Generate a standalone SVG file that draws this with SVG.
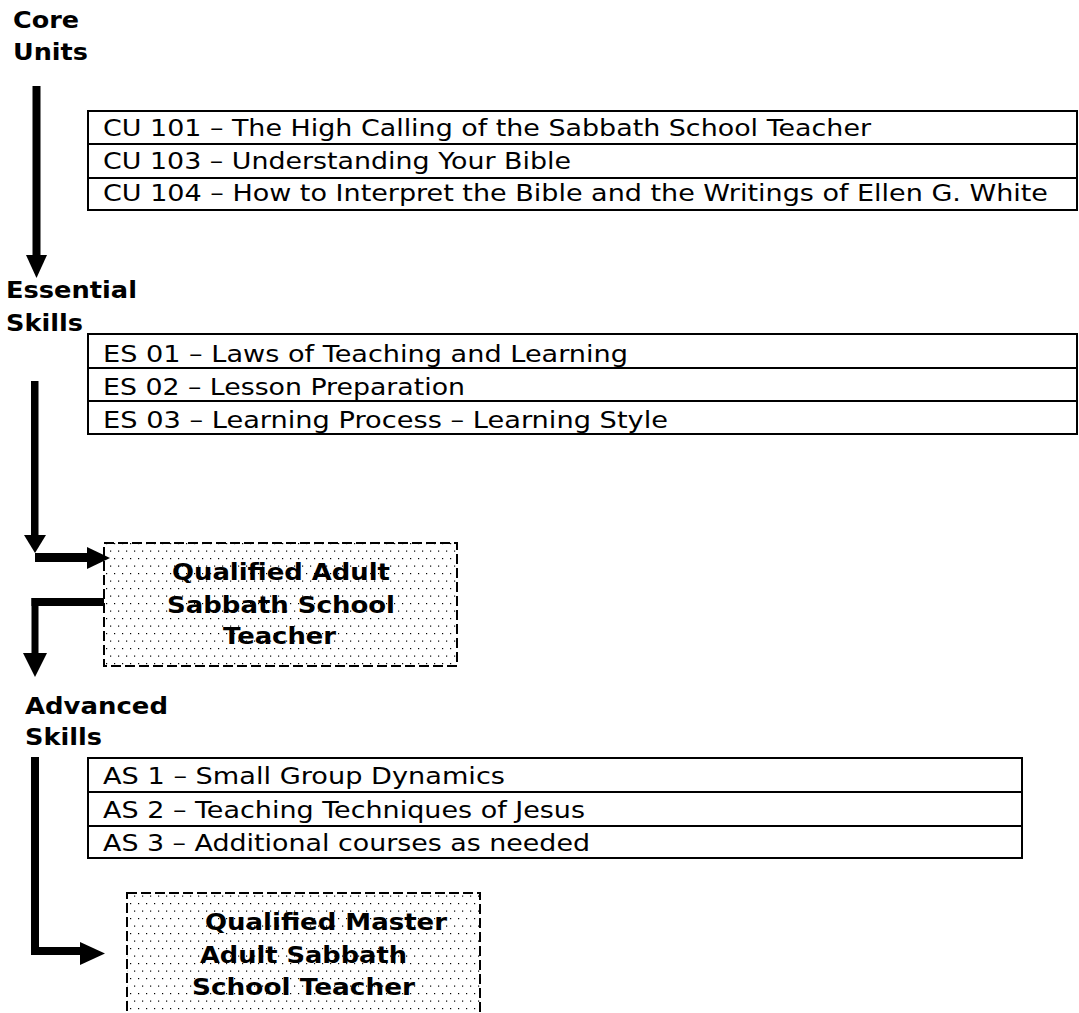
<svg xmlns="http://www.w3.org/2000/svg" width="1079" height="1013" viewBox="0 0 1079 1013">
<style>
.reg{font-family:"DejaVu Sans","Liberation Sans",sans-serif;font-size:22.5px;fill:#000}
.bold{font-family:"DejaVu Sans","Liberation Sans",sans-serif;font-size:23px;font-weight:bold;fill:#000}
.cell{fill:#fff;stroke:#000;stroke-width:2}
.box{fill:url(#dots);stroke:#000;stroke-width:2;stroke-dasharray:10 4}
.ar{fill:#000;stroke:none}
</style>
<defs>
<pattern id="dots" width="8" height="15" patternUnits="userSpaceOnUse">
<rect width="8" height="15" fill="#fff"/>
<rect x="2" y="3" width="1.2" height="1.2" fill="#000"/>
<rect x="6" y="10.5" width="1.2" height="1.2" fill="#000"/>
</pattern>
</defs>
<rect width="1079" height="1013" fill="#fff"/>

<g id="heading-core">
<text class="bold" x="13" y="28" textLength="66" lengthAdjust="spacingAndGlyphs">Core</text>
<text class="bold" x="13" y="60" textLength="75" lengthAdjust="spacingAndGlyphs">Units</text>
</g>

<g id="table-core">
<rect class="cell" x="88" y="111" width="989" height="33"/>
<rect class="cell" x="88" y="144" width="989" height="34"/>
<rect class="cell" x="88" y="178" width="989" height="32"/>
<text class="reg" x="103" y="136" textLength="768" lengthAdjust="spacingAndGlyphs">CU 101 – The High Calling of the Sabbath School Teacher</text>
<text class="reg" x="103" y="169" textLength="468" lengthAdjust="spacingAndGlyphs">CU 103 – Understanding Your Bible</text>
<text class="reg" x="103" y="201" textLength="945" lengthAdjust="spacingAndGlyphs">CU 104 – How to Interpret the Bible and the Writings of Ellen G. White</text>
</g>

<g id="heading-essential">
<text class="bold" x="6" y="298" textLength="131" lengthAdjust="spacingAndGlyphs">Essential</text>
<text class="bold" x="6" y="331" textLength="77" lengthAdjust="spacingAndGlyphs">Skills</text>
</g>

<g id="table-essential">
<rect class="cell" x="88" y="334" width="989" height="34"/>
<rect class="cell" x="88" y="368" width="989" height="33"/>
<rect class="cell" x="88" y="401" width="989" height="33"/>
<text class="reg" x="103" y="362" textLength="525" lengthAdjust="spacingAndGlyphs">ES 01 – Laws of Teaching and Learning</text>
<text class="reg" x="103" y="395" textLength="362" lengthAdjust="spacingAndGlyphs">ES 02 – Lesson Preparation</text>
<text class="reg" x="103" y="428" textLength="565" lengthAdjust="spacingAndGlyphs">ES 03 – Learning Process – Learning Style</text>
</g>

<g id="node-qualified-adult">
<rect class="box" x="104" y="543" width="353" height="123"/>
<text class="bold" x="172" y="580" textLength="218" lengthAdjust="spacingAndGlyphs">Qualified Adult</text>
<text class="bold" x="167" y="613" textLength="228" lengthAdjust="spacingAndGlyphs">Sabbath School</text>
<text class="bold" x="223" y="644" textLength="113" lengthAdjust="spacingAndGlyphs">Teacher</text>
</g>

<g id="heading-advanced">
<text class="bold" x="25" y="714" textLength="143" lengthAdjust="spacingAndGlyphs">Advanced</text>
<text class="bold" x="25" y="745" textLength="77" lengthAdjust="spacingAndGlyphs">Skills</text>
</g>

<g id="table-advanced">
<rect class="cell" x="88" y="758" width="934" height="34"/>
<rect class="cell" x="88" y="792" width="934" height="34"/>
<rect class="cell" x="88" y="826" width="934" height="32"/>
<text class="reg" x="103" y="784" textLength="402" lengthAdjust="spacingAndGlyphs">AS 1 – Small Group Dynamics</text>
<text class="reg" x="103" y="818" textLength="482" lengthAdjust="spacingAndGlyphs">AS 2 – Teaching Techniques of Jesus</text>
<text class="reg" x="103" y="851" textLength="487" lengthAdjust="spacingAndGlyphs">AS 3 – Additional courses as needed</text>
</g>

<g id="node-qualified-master">
<rect class="box" x="127" y="893" width="353" height="140"/>
<text class="bold" x="205" y="930" textLength="242" lengthAdjust="spacingAndGlyphs">Qualified Master</text>
<text class="bold" x="200" y="963" textLength="207" lengthAdjust="spacingAndGlyphs">Adult Sabbath</text>
<text class="bold" x="192" y="995" textLength="223" lengthAdjust="spacingAndGlyphs">School Teacher</text>
</g>

<g id="connectors">
<rect class="ar" x="32.5" y="86" width="8" height="171"/>
<polygon class="ar" points="26,255 47,255 36.5,278"/>

<rect class="ar" x="31" y="381" width="7.5" height="156"/>
<polygon class="ar" points="24,535 46,535 35,553"/>
<rect class="ar" x="35" y="553" width="53" height="9"/>
<polygon class="ar" points="87,547 87,569 110,558"/>

<rect class="ar" x="31.5" y="598" width="72.5" height="8"/>
<rect class="ar" x="31.5" y="598" width="7" height="57"/>
<polygon class="ar" points="23,653 47,653 35,677"/>

<rect class="ar" x="31" y="757" width="8" height="198"/>
<rect class="ar" x="31" y="947" width="51" height="8"/>
<polygon class="ar" points="80,942 80,965 105,953.5"/>
</g>
</svg>
